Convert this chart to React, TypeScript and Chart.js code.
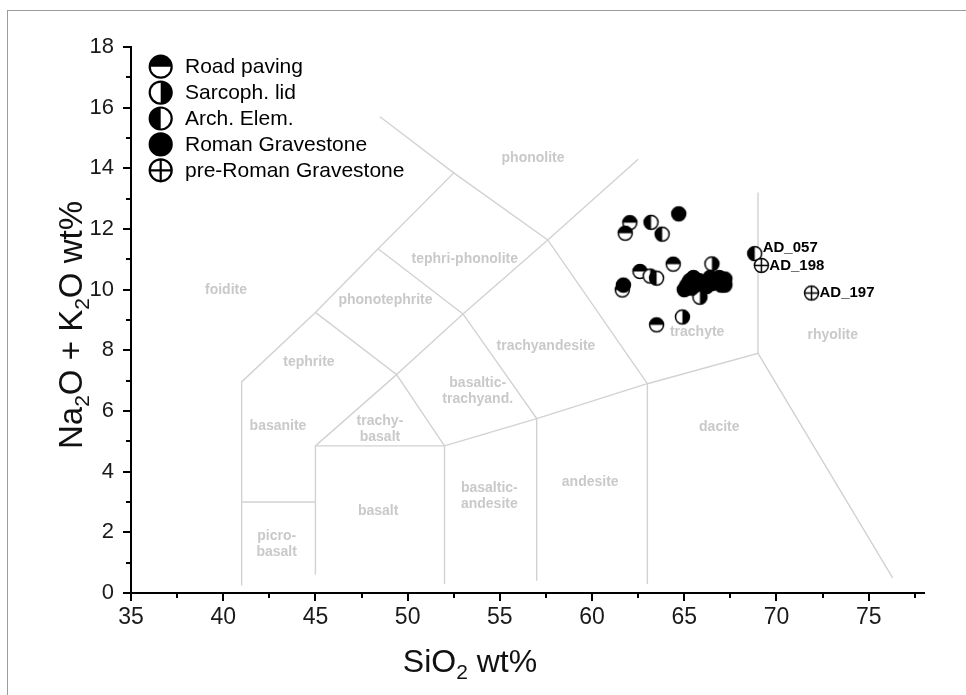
import React, { useEffect, useRef } from "react";
import { Chart, registerables } from "chart.js";
Chart.register(...registerables);

type Pt = { x: number; y: number; label?: string };

const xMin = 35;
const xMax = 78;
const yMin = 0;
const yMax = 18;
const xMajorTicks = [35, 40, 45, 50, 55, 60, 65, 70, 75];
const xMinorTicks = [37.5, 42.5, 47.5, 52.5, 57.5, 62.5, 67.5, 72.5, 77.5];
const yMajorTicks = [0, 2, 4, 6, 8, 10, 12, 14, 16, 18];
const yMinorTicks = [1, 3, 5, 7, 9, 11, 13, 15, 17];

const seriesNames = ["Road paving", "Sarcoph. lid", "Arch. Elem.", "Roman Gravestone", "pre-Roman Gravestone"];
const seriesSymbols = ["top", "right", "left", "full", "cross"];

const roadPaving: Pt[] = [
  { x: 62.05, y: 12.21 },
  { x: 61.8, y: 11.86 },
  { x: 64.4, y: 10.84 },
  { x: 62.6, y: 10.6 },
  { x: 61.64, y: 9.99 },
  { x: 63.5, y: 8.84 },
];
const sarcophLid: Pt[] = [
  { x: 66.5, y: 10.85 },
  { x: 63.15, y: 10.45 },
  { x: 65.85, y: 9.75 },
  { x: 64.9, y: 9.1 },
];
const archElem: Pt[] = [
  { x: 63.2, y: 12.22 },
  { x: 63.8, y: 11.83 },
  { x: 63.5, y: 10.38 },
  { x: 68.82, y: 11.19, label: "AD_057" },
];
const romanGravestone: Pt[] = [
  { x: 64.7, y: 12.5 },
  { x: 61.7, y: 10.15 },
  { x: 65.0, y: 10.0 },
  { x: 65.15, y: 10.15 },
  { x: 65.3, y: 10.3 },
  { x: 65.5, y: 10.4 },
  { x: 65.4, y: 10.05 },
  { x: 65.6, y: 10.15 },
  { x: 65.8, y: 10.3 },
  { x: 66.0, y: 10.2 },
  { x: 66.2, y: 10.1 },
  { x: 66.4, y: 10.4 },
  { x: 66.5, y: 10.2 },
  { x: 66.7, y: 10.3 },
  { x: 66.9, y: 10.4 },
  { x: 67.0, y: 10.15 },
  { x: 67.2, y: 10.35 },
  { x: 67.2, y: 10.15 },
];
const preRomanGravestone: Pt[] = [
  { x: 69.18, y: 10.8, label: "AD_198" },
  { x: 71.9, y: 9.89, label: "AD_197" },
];
const seriesData = [roadPaving, sarcophLid, archElem, romanGravestone, preRomanGravestone];
const seriesOrder = [4, 3, 2, 1, 0];

// TAS field boundaries (SiO2, Na2O+K2O)
const tasLine1: Pt[] = [{ x: 41, y: 0.25 }, { x: 41, y: 6.96 }, { x: 45, y: 9.25 }, { x: 48.4, y: 11.35 }, { x: 52.5, y: 13.85 }, { x: 48.5, y: 15.7 }];
const tasLine2: Pt[] = [{ x: 41, y: 3 }, { x: 45, y: 3 }];
const tasLine3: Pt[] = [{ x: 45, y: 0.6 }, { x: 45, y: 4.85 }, { x: 52, y: 4.85 }, { x: 52, y: 0.3 }];
const tasLine4: Pt[] = [{ x: 45, y: 4.85 }, { x: 49.4, y: 7.2 }, { x: 52, y: 4.85 }];
const tasLine5: Pt[] = [{ x: 45, y: 9.25 }, { x: 49.4, y: 7.2 }, { x: 53, y: 9.2 }, { x: 57.6, y: 11.64 }, { x: 62.5, y: 14.3 }];
const tasLine6: Pt[] = [{ x: 52, y: 4.85 }, { x: 57, y: 5.75 }, { x: 63, y: 6.9 }, { x: 69, y: 7.9 }, { x: 76.3, y: 0.5 }];
const tasLine7: Pt[] = [{ x: 57, y: 0.4 }, { x: 57, y: 5.75 }, { x: 53, y: 9.2 }, { x: 48.4, y: 11.35 }];
const tasLine8: Pt[] = [{ x: 63, y: 0.3 }, { x: 63, y: 6.9 }, { x: 57.6, y: 11.64 }, { x: 52.5, y: 13.85 }];
const tasLine9: Pt[] = [{ x: 69, y: 7.9 }, { x: 69, y: 13.2 }];
const tasLines = [tasLine1, tasLine2, tasLine3, tasLine4, tasLine5, tasLine6, tasLine7, tasLine8, tasLine9];

const fieldNames = [
  "phonolite", "tephri-phonolite", "foidite", "phonotephrite", "tephrite", "trachyandesite",
  "trachyte", "rhyolite", "basaltic-\ntrachyand.", "basanite", "trachy-\nbasalt", "dacite",
  "andesite", "basaltic-\nandesite", "basalt", "picro-\nbasalt",
];
const fieldX = [56.8, 53.1, 40.15, 48.8, 44.65, 57.5, 65.7, 73.05, 53.8, 42.97, 48.5, 66.9, 59.9, 54.43, 48.4, 42.9];
const fieldY = [14.35, 11.0, 10.0, 9.65, 7.6, 8.15, 8.6, 8.5, 6.66, 5.5, 5.4, 5.47, 3.66, 3.19, 2.7, 1.61];

const SANS = "'Liberation Sans', Arial, Helvetica, sans-serif";

function drawSymbol(ctx: CanvasRenderingContext2D, kind: string, cx: number, cy: number, r: number, lw: number) {
  ctx.save();
  ctx.beginPath();
  ctx.arc(cx, cy, r, 0, Math.PI * 2);
  ctx.fillStyle = kind === "full" ? "#000" : "#fff";
  ctx.fill();
  ctx.fillStyle = "#000";
  let a0 = 0, a1 = 0;
  if (kind === "top") { a0 = Math.PI; a1 = Math.PI * 2; }
  if (kind === "right") { a0 = -Math.PI / 2; a1 = Math.PI / 2; }
  if (kind === "left") { a0 = Math.PI / 2; a1 = Math.PI * 1.5; }
  if (a0 !== a1) {
    ctx.beginPath();
    ctx.arc(cx, cy, r, a0, a1);
    ctx.closePath();
    ctx.fill();
  }
  ctx.lineWidth = lw;
  ctx.strokeStyle = "#000";
  ctx.beginPath();
  ctx.arc(cx, cy, r, 0, Math.PI * 2);
  ctx.stroke();
  if (kind === "cross") {
    ctx.beginPath();
    ctx.moveTo(cx - r, cy);
    ctx.lineTo(cx + r, cy);
    ctx.moveTo(cx, cy - r);
    ctx.lineTo(cx, cy + r);
    ctx.stroke();
  }
  ctx.restore();
}

function makeSymbolImage(kind: string, r: number, lw: number): HTMLCanvasElement {
  const size = Math.ceil(2 * (r + lw)) + 2;
  const c = document.createElement("canvas");
  c.width = size;
  c.height = size;
  const ctx = c.getContext("2d")!;
  drawSymbol(ctx, kind, size / 2, size / 2, r, lw);
  return c;
}

function drawRich(ctx: CanvasRenderingContext2D, segs: [string, boolean][], cx: number, cy: number, size: number, family: string, angle: number) {
  ctx.save();
  ctx.translate(cx, cy);
  ctx.rotate(angle);
  const sub = Math.round(size * 0.65);
  let total = 0;
  const widths = segs.map(([t, s]) => {
    ctx.font = `${s ? sub : size}px ${family}`;
    const w = ctx.measureText(t).width;
    total += w;
    return w;
  });
  let x = -total / 2;
  ctx.fillStyle = "#111";
  ctx.textBaseline = "alphabetic";
  ctx.textAlign = "left";
  const base = size * 0.36;
  segs.forEach(([t, s], i) => {
    ctx.font = `${s ? sub : size}px ${family}`;
    ctx.fillText(t, x, base + (s ? size * 0.22 : 0));
    x += widths[i];
  });
  ctx.restore();
}

const labelDy: Record<string, number> = { AD_057: -6 };

const tasPlugin = {
  id: "tasDecor",
  beforeDatasetsDraw(chart: any) {
    const ctx = chart.ctx as CanvasRenderingContext2D;
    const xs = chart.scales.x;
    const ys = chart.scales.y;
    ctx.save();
    ctx.font = `bold 14px ${SANS}`;
    ctx.fillStyle = "#c9c9c9";
    ctx.textAlign = "center";
    ctx.textBaseline = "middle";
    fieldNames.forEach((name, i) => {
      const px = xs.getPixelForValue(fieldX[i]);
      const py = ys.getPixelForValue(fieldY[i]);
      const lines = name.split("\n");
      const lh = 15.5;
      lines.forEach((ln, k) => {
        ctx.fillText(ln, px, py + (k - (lines.length - 1) / 2) * lh);
      });
    });
    ctx.restore();
  },
  afterDatasetsDraw(chart: any) {
    const ctx = chart.ctx as CanvasRenderingContext2D;
    ctx.save();
    ctx.font = `bold 15px ${SANS}`;
    ctx.fillStyle = "#000";
    ctx.textAlign = "left";
    ctx.textBaseline = "middle";
    chart.data.datasets.forEach((ds: any, i: number) => {
      const meta = chart.getDatasetMeta(i);
      (ds.data as Pt[]).forEach((p, j) => {
        if (!p.label) return;
        const el = meta.data[j];
        ctx.fillText(p.label, el.x + 8, el.y + (labelDy[p.label] || 0));
      });
    });
    ctx.restore();
  },
  afterDraw(chart: any) {
    const ctx = chart.ctx as CanvasRenderingContext2D;
    const xs = chart.scales.x;
    const ys = chart.scales.y;
    const area = chart.chartArea;
    ctx.save();
    // minor ticks
    ctx.strokeStyle = "#000";
    ctx.lineWidth = 2;
    ctx.beginPath();
    yMinorTicks.forEach((v) => {
      const py = Math.round(ys.getPixelForValue(v));
      ctx.moveTo(area.left - 5, py);
      ctx.lineTo(area.left, py);
    });
    xMinorTicks.forEach((v) => {
      const px = Math.round(xs.getPixelForValue(v));
      ctx.moveTo(px, area.bottom);
      ctx.lineTo(px, area.bottom + 5);
    });
    ctx.stroke();
    // axis titles
    drawRich(ctx, [["Na", false], ["2", true], ["O + K", false], ["2", true], ["O wt%", false]], 70, 325, 33, SANS, -Math.PI / 2);
    drawRich(ctx, [["SiO", false], ["2", true], [" wt%", false]], 470, 660, 32, SANS, 0);
    // legend
    const lx = area.left + 29.7;
    const ly0 = area.top + 19.7;
    const step = 25.9;
    ctx.font = `21px ${SANS}`;
    ctx.fillStyle = "#000";
    ctx.textAlign = "left";
    ctx.textBaseline = "middle";
    seriesNames.forEach((name, i) => {
      const y = ly0 + i * step;
      drawSymbol(ctx, seriesSymbols[i], lx, y, 11, 2.2);
      ctx.fillStyle = "#000";
      ctx.fillText(name, area.left + 54, y + 1);
    });
    ctx.restore();
  },
};

export default function App() {
  const ref = useRef<HTMLCanvasElement | null>(null);
  useEffect(() => {
    if (!ref.current) return;
    const pointDatasets = seriesNames.map((name, i) => ({
      label: name,
      data: seriesData[i],
      pointStyle: makeSymbolImage(seriesSymbols[i], 7, 1.5),
      pointRadius: 7,
      showLine: false,
      order: seriesOrder[i],
      clip: false as any,
    }));
    const lineDatasets = tasLines.map((ln, i) => ({
      label: `field${i}`,
      data: ln,
      showLine: true,
      pointRadius: 0,
      borderColor: "#d2d2d2",
      borderWidth: 1.4,
      fill: false,
      tension: 0,
      order: 20,
    }));
    const tickFontColor = "#1a1a1a";
    const chart = new Chart(ref.current, {
      type: "scatter",
      data: { datasets: [...pointDatasets, ...lineDatasets] as any },
      options: {
        animation: false,
        responsive: false,
        devicePixelRatio: 1,
        events: [],
        layout: { padding: { left: 0, right: 42, top: 47, bottom: 0 } },
        plugins: { legend: { display: false }, tooltip: { enabled: false } },
        scales: {
          x: {
            type: "linear",
            min: xMin,
            max: xMax,
            afterBuildTicks: (s: any) => { s.ticks = xMajorTicks.map((v) => ({ value: v })); },
            afterFit: (s: any) => { s.height = 102; },
            ticks: { font: { family: SANS, size: 23 }, color: tickFontColor, padding: 3, autoSkip: false, maxRotation: 0 },
            grid: { drawOnChartArea: false, drawTicks: true, tickLength: 8, color: "#000", lineWidth: 2 },
            border: { display: true, color: "#000", width: 2 },
          },
          y: {
            type: "linear",
            min: yMin,
            max: yMax,
            afterBuildTicks: (s: any) => { s.ticks = yMajorTicks.map((v) => ({ value: v })); },
            afterFit: (s: any) => { s.width = 131; },
            ticks: { font: { family: SANS, size: 22 }, color: tickFontColor, padding: 9, autoSkip: false },
            grid: { drawOnChartArea: false, drawTicks: true, tickLength: 8, color: "#000", lineWidth: 2 },
            border: { display: true, color: "#000", width: 2 },
          },
        },
      },
      plugins: [tasPlugin],
    });
    return () => chart.destroy();
  }, []);
  return (
    <div style={{ position: "absolute", left: 0, top: 0, width: 966, height: 695, background: "#fff", overflow: "hidden" }}>
      <canvas ref={ref} width={966} height={695} style={{ position: "absolute", left: 0, top: 0, width: 966, height: 695 }} />
      <div style={{ position: "absolute", left: 7, top: 10, width: 1000, height: 800, border: "1px solid #9c9c9c", pointerEvents: "none" }} />
    </div>
  );
}
